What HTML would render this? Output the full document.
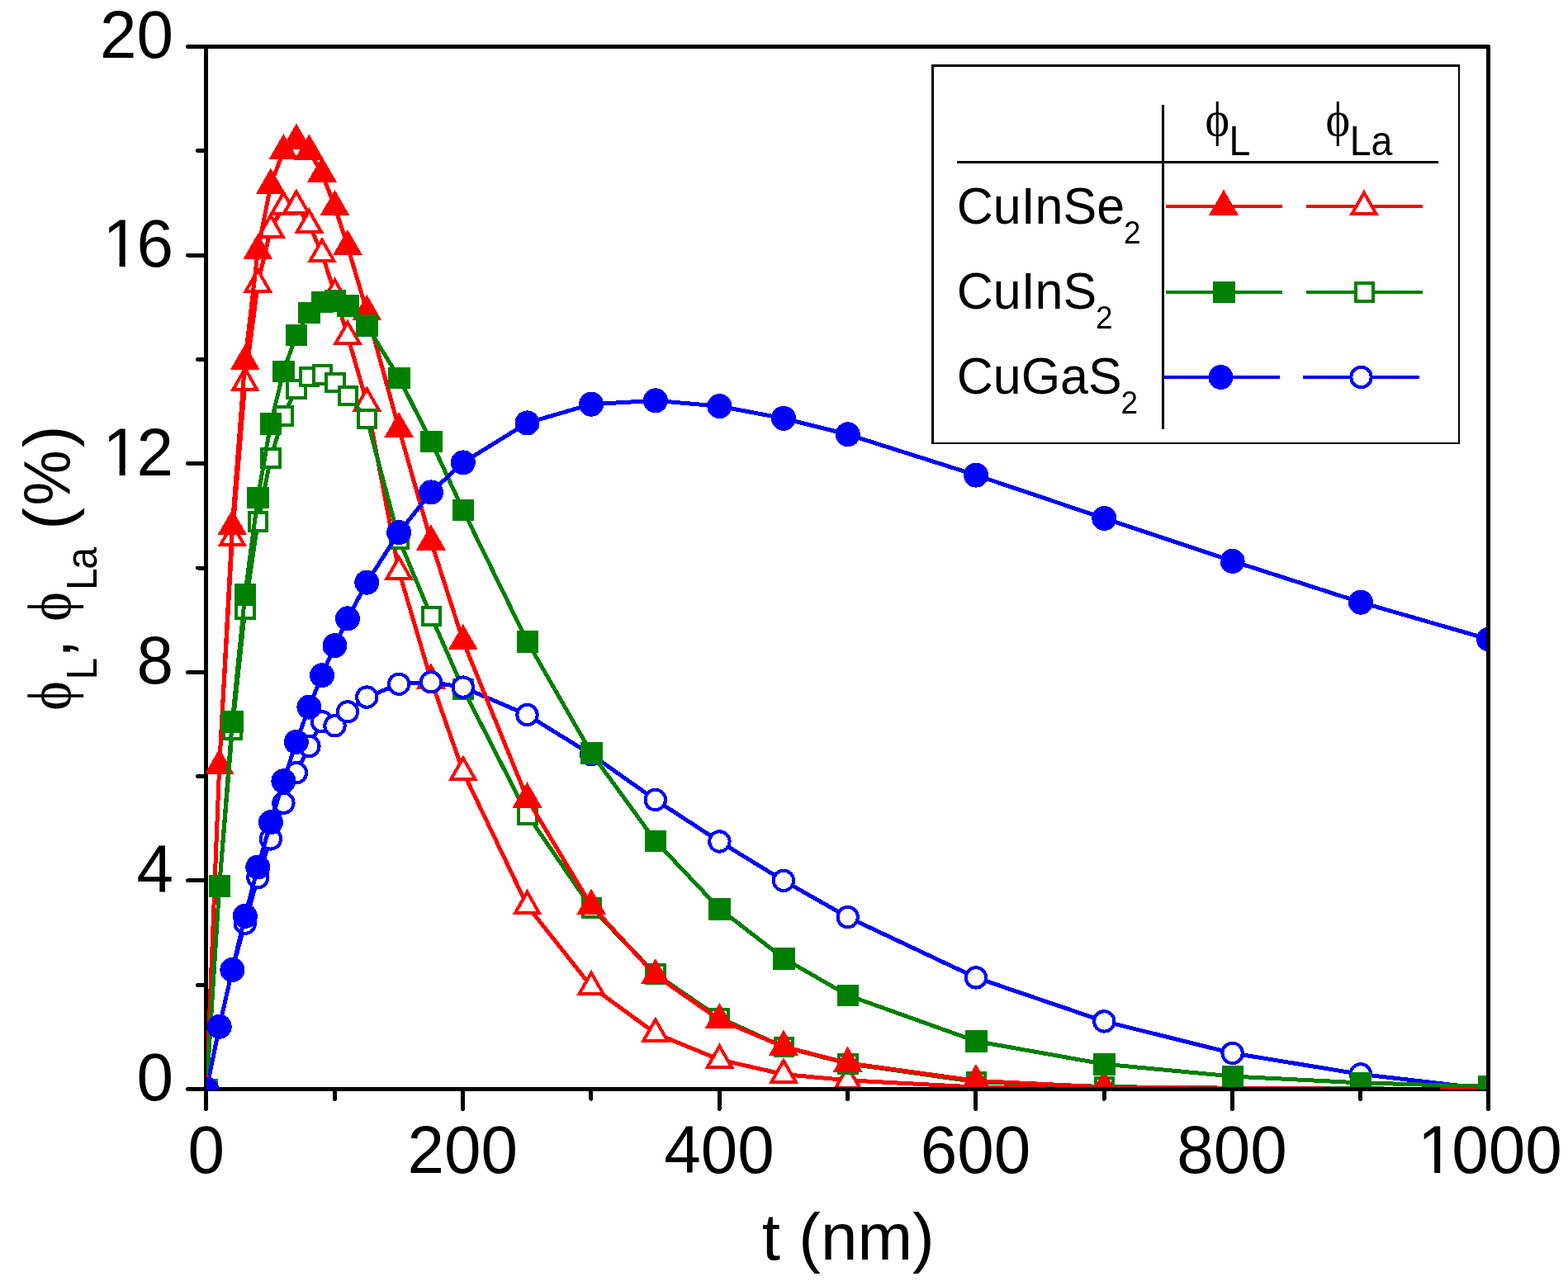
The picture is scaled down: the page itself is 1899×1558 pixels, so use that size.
<!DOCTYPE html>
<html lang="en"><head><meta charset="utf-8"><title>Efficiency versus thickness</title>
<style>html,body{margin:0;padding:0;background:#fefefe}body{width:1899px;height:1558px}svg{display:block}text{font-family:"Liberation Sans",sans-serif;fill:#000}.ph{font-family:"Liberation Serif",serif}</style>
</head><body>
<svg width="1899" height="1558" viewBox="0 0 1899 1558">
<defs>
<clipPath id="cp"><rect x="250" y="57" width="1550" height="1260"/></clipPath><clipPath id="cp2"><rect x="250" y="57" width="1550" height="1263"/></clipPath>
<polygon id="tf" points="0,-20.5 18,10.8 -18,10.8" fill="#ff0000"/>
<g id="to"><polygon points="0,-20.5 18,11 -18,11" fill="#ff0000"/><polygon points="0,-12.5 11.1,7 -11.1,7" fill="#fefefe"/></g>
<rect id="sf" x="-13" y="-13" width="26.5" height="26.5" fill="#008000"/>
<g id="so"><rect x="-12.5" y="-12.5" width="25.5" height="25.5" fill="#008000"/><rect x="-8.5" y="-8.5" width="17.5" height="17.5" fill="#fefefe"/></g>
<circle id="cf" r="15" fill="#0000ff"/>
<circle id="co" r="12.2" fill="#fefefe" stroke="#0000ff" stroke-width="4"/>
</defs>
<rect width="1899" height="1558" fill="#fefefe"/>
<g stroke="#000" stroke-width="5" fill="none" stroke-linecap="round" shape-rendering="crispEdges">
<line x1="249.5" y1="56.5" x2="249.5" y2="1343.3"/>
<line x1="1802.5" y1="57" x2="1802.5" y2="1343.3"/>
<line x1="227.6" y1="56.5" x2="1802" y2="56.5"/>
<line x1="227.6" y1="1319.5" x2="1802" y2="1319.5"/>
<line x1="239.6" y1="1193.2" x2="249.5" y2="1193.2"/>
<line x1="227.6" y1="1066.9" x2="249.5" y2="1066.9"/>
<line x1="239.6" y1="940.6" x2="249.5" y2="940.6"/>
<line x1="227.6" y1="814.3" x2="249.5" y2="814.3"/>
<line x1="239.6" y1="688" x2="249.5" y2="688"/>
<line x1="227.6" y1="561.7" x2="249.5" y2="561.7"/>
<line x1="239.6" y1="435.4" x2="249.5" y2="435.4"/>
<line x1="227.6" y1="309.1" x2="249.5" y2="309.1"/>
<line x1="239.6" y1="182.8" x2="249.5" y2="182.8"/>
<line x1="405.3" y1="1319.5" x2="405.3" y2="1331.3"/>
<line x1="560.6" y1="1319.5" x2="560.6" y2="1343.3"/>
<line x1="715.9" y1="1319.5" x2="715.9" y2="1331.3"/>
<line x1="871.2" y1="1319.5" x2="871.2" y2="1343.3"/>
<line x1="1026.5" y1="1319.5" x2="1026.5" y2="1331.3"/>
<line x1="1181.8" y1="1319.5" x2="1181.8" y2="1343.3"/>
<line x1="1337.1" y1="1319.5" x2="1337.1" y2="1331.3"/>
<line x1="1492.4" y1="1319.5" x2="1492.4" y2="1343.3"/>
<line x1="1647.7" y1="1319.5" x2="1647.7" y2="1331.3"/>
</g>
<g clip-path="url(#cp)" shape-rendering="crispEdges">
<polyline points="250.2,1319.5 265.7,927.3 281.3,651.4 296.8,463.2 312.3,343.8 327.9,277.5 343.4,250.1 358.9,248.8 374.4,271.8 390,307.2 405.5,355.8 421,407 444.3,487.8 483.1,691.8 522,823.8 560.8,934.9 638.5,1097.2 716.1,1195.1 793.8,1251.9 871.4,1283.8 949,1301.5 1026.7,1308.8 1182,1317 1337.3,1318.2 1492.6,1318.9 1647.9,1319.5 1803.2,1319.5" fill="none" stroke="#ff0000" stroke-width="5" stroke-linejoin="round"/>
<use href="#to" x="250.2" y="1319.5"/>
<use href="#to" x="265.7" y="927.3"/>
<use href="#to" x="281.3" y="651.4"/>
<use href="#to" x="296.8" y="463.2"/>
<use href="#to" x="312.3" y="343.8"/>
<use href="#to" x="327.9" y="277.5"/>
<use href="#to" x="343.4" y="250.1"/>
<use href="#to" x="358.9" y="248.8"/>
<use href="#to" x="374.4" y="271.8"/>
<use href="#to" x="390" y="307.2"/>
<use href="#to" x="405.5" y="355.8"/>
<use href="#to" x="421" y="407"/>
<use href="#to" x="444.3" y="487.8"/>
<use href="#to" x="483.1" y="691.8"/>
<use href="#to" x="522" y="823.8"/>
<use href="#to" x="560.8" y="934.9"/>
<use href="#to" x="638.5" y="1097.2"/>
<use href="#to" x="716.1" y="1195.1"/>
<use href="#to" x="793.8" y="1251.9"/>
<use href="#to" x="871.4" y="1283.8"/>
<use href="#to" x="949" y="1301.5"/>
<use href="#to" x="1026.7" y="1308.8"/>
<use href="#to" x="1182" y="1317"/>
<use href="#to" x="1337.3" y="1318.2"/>
<use href="#to" x="1492.6" y="1318.9"/>
<use href="#to" x="1647.9" y="1319.5"/>
<use href="#to" x="1803.2" y="1319.5"/>
<polyline points="250.2,1319.5 265.7,1073.2 281.3,883.8 296.8,737.9 312.3,631.8 327.9,554.8 343.4,503.6 358.9,471.4 374.4,456.2 390,453.7 405.5,463.2 421,479 444.3,507.1 483.1,653.3 522,746.1 560.8,834.5 638.5,986.7 716.1,1099.7 793.8,1179.9 871.4,1233 949,1268.3 1026.7,1288.6 1182,1310.7 1337.3,1316.6 1492.6,1318.2 1647.9,1318.9 1803.2,1319.5" fill="none" stroke="#008000" stroke-width="5" stroke-linejoin="round"/>
<use href="#so" x="250.2" y="1319.5"/>
<use href="#so" x="265.7" y="1073.2"/>
<use href="#so" x="281.3" y="883.8"/>
<use href="#so" x="296.8" y="737.9"/>
<use href="#so" x="312.3" y="631.8"/>
<use href="#so" x="327.9" y="554.8"/>
<use href="#so" x="343.4" y="503.6"/>
<use href="#so" x="358.9" y="471.4"/>
<use href="#so" x="374.4" y="456.2"/>
<use href="#so" x="390" y="453.7"/>
<use href="#so" x="405.5" y="463.2"/>
<use href="#so" x="421" y="479"/>
<use href="#so" x="444.3" y="507.1"/>
<use href="#so" x="483.1" y="653.3"/>
<use href="#so" x="522" y="746.1"/>
<use href="#so" x="560.8" y="834.5"/>
<use href="#so" x="638.5" y="986.7"/>
<use href="#so" x="716.1" y="1099.7"/>
<use href="#so" x="793.8" y="1179.9"/>
<use href="#so" x="871.4" y="1233"/>
<use href="#so" x="949" y="1268.3"/>
<use href="#so" x="1026.7" y="1288.6"/>
<use href="#so" x="1182" y="1310.7"/>
<use href="#so" x="1337.3" y="1316.6"/>
<use href="#so" x="1492.6" y="1318.2"/>
<use href="#so" x="1647.9" y="1318.9"/>
<use href="#so" x="1803.2" y="1319.5"/>
<polyline points="250.2,1319.5 265.7,1243.7 281.3,1174.9 296.8,1118.7 312.3,1063.1 327.9,1016.4 343.4,972.8 358.9,936.2 374.4,904 390,874.3 405.5,879.3 421,862.3 444.3,844.6 483.1,828.8 522,826.3 560.8,832.6 638.5,866.1 716.1,914.1 793.8,969 871.4,1019.5 949,1066.9 1026.7,1111.1 1182,1184.4 1337.3,1237.4 1492.6,1275.9 1647.9,1301.4 1803.2,1319.5" fill="none" stroke="#0000ff" stroke-width="5" stroke-linejoin="round"/>
<use href="#co" x="250.2" y="1319.5"/>
<use href="#co" x="265.7" y="1243.7"/>
<use href="#co" x="281.3" y="1174.9"/>
<use href="#co" x="296.8" y="1118.7"/>
<use href="#co" x="312.3" y="1063.1"/>
<use href="#co" x="327.9" y="1016.4"/>
<use href="#co" x="343.4" y="972.8"/>
<use href="#co" x="358.9" y="936.2"/>
<use href="#co" x="374.4" y="904"/>
<use href="#co" x="390" y="874.3"/>
<use href="#co" x="405.5" y="879.3"/>
<use href="#co" x="421" y="862.3"/>
<use href="#co" x="444.3" y="844.6"/>
<use href="#co" x="483.1" y="828.8"/>
<use href="#co" x="522" y="826.3"/>
<use href="#co" x="560.8" y="832.6"/>
<use href="#co" x="638.5" y="866.1"/>
<use href="#co" x="716.1" y="914.1"/>
<use href="#co" x="793.8" y="969"/>
<use href="#co" x="871.4" y="1019.5"/>
<use href="#co" x="949" y="1066.9"/>
<use href="#co" x="1026.7" y="1111.1"/>
<use href="#co" x="1182" y="1184.4"/>
<use href="#co" x="1337.3" y="1237.4"/>
<use href="#co" x="1492.6" y="1275.9"/>
<use href="#co" x="1647.9" y="1301.4"/>
<use href="#co" x="1803.2" y="1319.5"/>
<polyline points="250.2,1319.5 265.7,927.3 281.3,637.5 296.8,437.3 312.3,303.4 327.9,224 343.4,182.5 358.9,169.9 374.4,182.9 390,210 405.5,250.4 421,298.4 444.3,377.3 483.1,519.4 522,655.8 560.8,776.4 638.5,967.8 716.1,1097.2 793.8,1181.5 871.4,1235.5 949,1268 1026.7,1287.9 1182,1309.4 1337.3,1317 1492.6,1318.5 1647.9,1319.2 1803.2,1319.5" fill="none" stroke="#ff0000" stroke-width="5" stroke-linejoin="round"/>
<use href="#tf" x="250.2" y="1319.5"/>
<use href="#tf" x="265.7" y="927.3"/>
<use href="#tf" x="281.3" y="637.5"/>
<use href="#tf" x="296.8" y="437.3"/>
<use href="#tf" x="312.3" y="303.4"/>
<use href="#tf" x="327.9" y="224"/>
<use href="#tf" x="343.4" y="182.5"/>
<use href="#tf" x="358.9" y="169.9"/>
<use href="#tf" x="374.4" y="182.9"/>
<use href="#tf" x="390" y="210"/>
<use href="#tf" x="405.5" y="250.4"/>
<use href="#tf" x="421" y="298.4"/>
<use href="#tf" x="444.3" y="377.3"/>
<use href="#tf" x="483.1" y="519.4"/>
<use href="#tf" x="522" y="655.8"/>
<use href="#tf" x="560.8" y="776.4"/>
<use href="#tf" x="638.5" y="967.8"/>
<use href="#tf" x="716.1" y="1097.2"/>
<use href="#tf" x="793.8" y="1181.5"/>
<use href="#tf" x="871.4" y="1235.5"/>
<use href="#tf" x="949" y="1268"/>
<use href="#tf" x="1026.7" y="1287.9"/>
<use href="#tf" x="1182" y="1309.4"/>
<use href="#tf" x="1337.3" y="1317"/>
<use href="#tf" x="1492.6" y="1318.5"/>
<use href="#tf" x="1647.9" y="1319.2"/>
<use href="#tf" x="1803.2" y="1319.5"/>
<polyline points="250.2,1319.5 265.7,1073.2 281.3,874.3 296.8,720.2 312.3,602.7 327.9,513.1 343.4,449.9 358.9,405.7 374.4,378.6 390,365.9 405.5,364 421,370.4 444.3,394.4 483.1,457.5 522,534.5 560.8,617.9 638.5,777 716.1,912.2 793.8,1018.9 871.4,1101 949,1161 1026.7,1205.8 1182,1261.4 1337.3,1289.2 1492.6,1304 1647.9,1311.9 1803.2,1316.3" fill="none" stroke="#008000" stroke-width="5" stroke-linejoin="round"/>
<use href="#sf" x="250.2" y="1319.5"/>
<use href="#sf" x="265.7" y="1073.2"/>
<use href="#sf" x="281.3" y="874.3"/>
<use href="#sf" x="296.8" y="720.2"/>
<use href="#sf" x="312.3" y="602.7"/>
<use href="#sf" x="327.9" y="513.1"/>
<use href="#sf" x="343.4" y="449.9"/>
<use href="#sf" x="358.9" y="405.7"/>
<use href="#sf" x="374.4" y="378.6"/>
<use href="#sf" x="390" y="365.9"/>
<use href="#sf" x="405.5" y="364"/>
<use href="#sf" x="421" y="370.4"/>
<use href="#sf" x="444.3" y="394.4"/>
<use href="#sf" x="483.1" y="457.5"/>
<use href="#sf" x="522" y="534.5"/>
<use href="#sf" x="560.8" y="617.9"/>
<use href="#sf" x="638.5" y="777"/>
<use href="#sf" x="716.1" y="912.2"/>
<use href="#sf" x="793.8" y="1018.9"/>
<use href="#sf" x="871.4" y="1101"/>
<use href="#sf" x="949" y="1161"/>
<use href="#sf" x="1026.7" y="1205.8"/>
<use href="#sf" x="1182" y="1261.4"/>
<use href="#sf" x="1337.3" y="1289.2"/>
<use href="#sf" x="1492.6" y="1304"/>
<use href="#sf" x="1647.9" y="1311.9"/>
<use href="#sf" x="1803.2" y="1316.3"/>
<polyline points="250.2,1319.5 265.7,1243.7 281.3,1174.9 296.8,1109.8 312.3,1050.5 327.9,996.2 343.4,946.3 358.9,898.9 374.4,856.6 390,818.1 405.5,782.1 421,749.3 444.3,705.7 483.1,645.1 522,596.4 560.8,560.4 638.5,512.4 716.1,489.7 793.8,485.3 871.4,492.2 949,506.8 1026.7,526.3 1182,575.6 1337.3,628 1492.6,679.8 1647.9,729.7 1803.2,774.5" fill="none" stroke="#0000ff" stroke-width="5" stroke-linejoin="round"/>
<use href="#cf" x="250.2" y="1319.5"/>
<use href="#cf" x="265.7" y="1243.7"/>
<use href="#cf" x="281.3" y="1174.9"/>
<use href="#cf" x="296.8" y="1109.8"/>
<use href="#cf" x="312.3" y="1050.5"/>
<use href="#cf" x="327.9" y="996.2"/>
<use href="#cf" x="343.4" y="946.3"/>
<use href="#cf" x="358.9" y="898.9"/>
<use href="#cf" x="374.4" y="856.6"/>
<use href="#cf" x="390" y="818.1"/>
<use href="#cf" x="405.5" y="782.1"/>
<use href="#cf" x="421" y="749.3"/>
<use href="#cf" x="444.3" y="705.7"/>
<use href="#cf" x="483.1" y="645.1"/>
<use href="#cf" x="522" y="596.4"/>
<use href="#cf" x="560.8" y="560.4"/>
<use href="#cf" x="638.5" y="512.4"/>
<use href="#cf" x="716.1" y="489.7"/>
<use href="#cf" x="793.8" y="485.3"/>
<use href="#cf" x="871.4" y="492.2"/>
<use href="#cf" x="949" y="506.8"/>
<use href="#cf" x="1026.7" y="526.3"/>
<use href="#cf" x="1182" y="575.6"/>
<use href="#cf" x="1337.3" y="628"/>
<use href="#cf" x="1492.6" y="679.8"/>
<use href="#cf" x="1647.9" y="729.7"/>
<use href="#cf" x="1803.2" y="774.5"/>
</g>
<g clip-path="url(#cp2)" shape-rendering="crispEdges">
<line x1="1743.7" y1="1318.5" x2="1790" y2="1318.5" stroke="#ff0000" stroke-width="3"/>
<use href="#to" x="250.2" y="1319.5"/>
<use href="#so" x="250.2" y="1319.5"/>
<use href="#co" x="250.2" y="1319.5"/>
<use href="#tf" x="250.2" y="1319.5"/>
<use href="#sf" x="250.2" y="1319.5"/>
<use href="#cf" x="250.2" y="1319.5"/>
<use href="#sf" x="1803.2" y="1316.3"/>
<use href="#cf" x="1803.2" y="774.5"/>
</g>
<text transform="translate(210,1333.3) scale(1.0,1.02)" font-size="80" text-anchor="end">0</text>
<text transform="translate(210,1080.7) scale(1.0,1.02)" font-size="80" text-anchor="end">4</text>
<text transform="translate(210,828.1) scale(1.0,1.02)" font-size="80" text-anchor="end">8</text>
<text transform="translate(121.02,575.5) scale(1.0,1.02)" font-size="80"><tspan dx="3.4">1</tspan><tspan dx="-3.4">2</tspan></text>
<text transform="translate(121.02,322.9) scale(1.0,1.02)" font-size="80"><tspan dx="3.4">1</tspan><tspan dx="-3.4">6</tspan></text>
<text transform="translate(210,70.3) scale(1.0,1.02)" font-size="80" text-anchor="end">20</text>
<text transform="translate(249.7,1421.3) scale(1.0,1.02)" font-size="80" text-anchor="middle">0</text>
<text transform="translate(560.3,1421.3) scale(1.0,1.02)" font-size="80" text-anchor="middle">200</text>
<text transform="translate(870.9,1421.3) scale(1.0,1.02)" font-size="80" text-anchor="middle">400</text>
<text transform="translate(1181.5,1421.3) scale(1.0,1.02)" font-size="80" text-anchor="middle">600</text>
<text transform="translate(1492.1,1421.3) scale(1.0,1.02)" font-size="80" text-anchor="middle">800</text>
<text transform="translate(1713.72,1421.3) scale(1.0,1.02)" font-size="80"><tspan dx="3.4">1</tspan><tspan dx="-3.4">000</tspan></text>
<rect x="129.42" y="568.4" width="15.2" height="8.3" fill="#fefefe"/>
<rect x="151.66" y="568.4" width="14.4" height="8.3" fill="#fefefe"/>
<rect x="129.42" y="315.8" width="15.2" height="8.3" fill="#fefefe"/>
<rect x="151.66" y="315.8" width="14.4" height="8.3" fill="#fefefe"/>
<rect x="1721.94" y="1414.2" width="15.2" height="8.3" fill="#fefefe"/>
<rect x="1744.18" y="1414.2" width="14.4" height="8.3" fill="#fefefe"/>
<text x="1027.3" y="1526.2" font-size="80" text-anchor="middle">t (nm)</text>
<g transform="translate(84.5,0) rotate(-90)">
<text stroke="#000" stroke-width="0.3" transform="translate(-860.5,0) scale(0.9,1.0)" font-size="74" class="ph">ϕ</text>
<text transform="translate(-823.5,32) scale(1.0,1.07)" font-size="48">L</text>
<text x="-797" y="0" font-size="80">,</text>
<text stroke="#000" stroke-width="0.3" transform="translate(-752.5,0) scale(0.9,1.0)" font-size="74" class="ph">ϕ</text>
<text transform="translate(-715,32) scale(1.0,1.07)" font-size="48">L</text>
<text transform="translate(-689.8,32) scale(1.0,1.07)" font-size="48">a</text>
<text x="-641.7" y="0" font-size="80">(</text>
<text transform="translate(-612.4,0) scale(0.945,1.0)" font-size="80">%</text>
<text x="-542.2" y="0" font-size="80">)</text>
</g>
<rect x="1128" y="78" width="640" height="460" fill="#fefefe"/>
<g fill="#000" shape-rendering="crispEdges"><rect x="1128" y="78" width="3" height="460"/><rect x="1128" y="78" width="640" height="3"/><rect x="1766" y="78" width="2" height="460"/><rect x="1128" y="536" width="640" height="2"/><rect x="1159" y="195" width="583" height="3"/><rect x="1407" y="127" width="3" height="393"/></g>
<text transform="translate(1459.6,164) scale(0.97,1.03)" font-size="58" class="ph">ϕ</text>
<text transform="translate(1488.5,188) scale(0.97,1.03)" font-size="48">L</text>
<text transform="translate(1605.4,164) scale(0.97,1.03)" font-size="58" class="ph">ϕ</text>
<text transform="translate(1634.7,188) scale(0.97,1.03)" font-size="48">La</text>
<text transform="translate(1158.7,270.7) scale(1,1.045)" font-size="61">CuInSe<tspan font-size="37" dx="-1.2" dy="23.4">2</tspan></text>
<g shape-rendering="crispEdges"><line x1="1412" y1="250" x2="1553" y2="250" stroke="#ff0000" stroke-width="4.4"/><use href="#tf" x="1482" y="250"/>
<line x1="1581.5" y1="250" x2="1722.5" y2="250" stroke="#ff0000" stroke-width="4.4"/><use href="#to" x="1652" y="250"/></g>
<text transform="translate(1158.7,374) scale(1,1.045)" font-size="61">CuInS<tspan font-size="37" dx="-1.2" dy="23.4">2</tspan></text>
<g shape-rendering="crispEdges"><line x1="1412" y1="353.7" x2="1553" y2="353.7" stroke="#008000" stroke-width="4.4"/><use href="#sf" x="1482" y="353.7"/>
<line x1="1581.5" y1="353.7" x2="1722.5" y2="353.7" stroke="#008000" stroke-width="4.4"/><use href="#so" x="1652" y="353.7"/></g>
<text transform="translate(1158.7,477) scale(1,1.045)" font-size="61">CuGaS<tspan font-size="37" dx="-1.2" dy="23.4">2</tspan></text>
<g shape-rendering="crispEdges"><line x1="1408.5" y1="457" x2="1549.5" y2="457" stroke="#0000ff" stroke-width="4.4"/><use href="#cf" x="1478.5" y="457"/>
<line x1="1578" y1="457" x2="1719" y2="457" stroke="#0000ff" stroke-width="4.4"/><use href="#co" x="1648.5" y="457"/></g>
</svg></body></html>
